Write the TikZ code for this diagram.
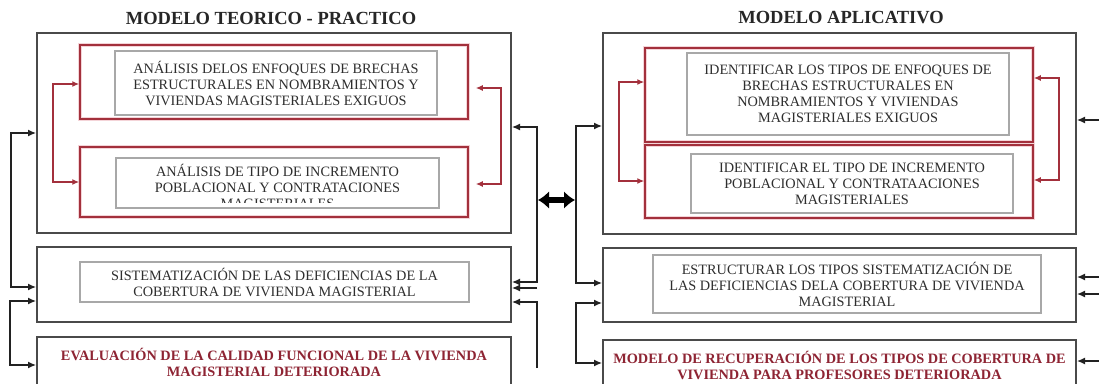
\documentclass[tikz,border=0pt]{standalone}
\usepackage{fontspec}
\setmainfont{Liberation Serif}
\usetikzlibrary{arrows.meta}
\definecolor{boxgray}{HTML}{4A4A4A}
\definecolor{innergray}{HTML}{A8A8A8}
\definecolor{redline}{HTML}{A3303C}
\definecolor{redhalo}{HTML}{F4D4D8}
\definecolor{redtext}{HTML}{8E2433}
\definecolor{txtgray}{HTML}{2E2E2E}
\definecolor{connblack}{HTML}{222222}
\tikzset{
  outerbox/.style={draw=boxgray,line width=2pt,rectangle,inner sep=0pt},
  redbox/.style={draw=redline,line width=1.5pt,rectangle,inner sep=0pt,
    preaction={draw=redhalo,line width=4pt}},
  graybox/.style={draw=innergray,line width=1.4pt,rectangle,inner sep=0pt,
    align=center,font=\fontsize{14.3}{16}\selectfont,text=txtgray},
  plaintext/.style={inner sep=0pt,align=center,font=\fontsize{14.3}{16}\selectfont,text=txtgray},
  evalbox/.style={draw=boxgray,line width=2pt,rectangle,inner sep=0pt,
    align=center,font=\fontsize{14.3}{16}\selectfont\bfseries,text=redtext},
  titletext/.style={inner sep=0pt,font=\fontsize{18.5}{20}\selectfont\bfseries,text=black!85},
  conn/.style={draw=connblack,line width=1.3pt,-{Latex[length=8pt,width=7pt]}},
  conntwo/.style={conn,{Latex[length=8pt,width=7pt]}-{Latex[length=8pt,width=7pt]}},
  redconn/.style={draw=redline,line width=1.3pt,
    {Latex[length=7pt,width=6pt]}-{Latex[length=7pt,width=6pt]}},
  bigarrow/.style={draw=black,line width=6pt,
    {Latex[length=11pt,width=18pt]}-{Latex[length=11pt,width=18pt]}}
}
\begin{document}
\begin{tikzpicture}[x=1pt,y=-1pt]
\useasboundingbox (0,0) rectangle (1099,383);
\fill[white] (0,0) rectangle (1099,383);
\clip (0,0) rectangle (1099,383);

% titles
\node[titletext] (T1) at (271,18) {MODELO TEORICO - PRACTICO};
\node[titletext] (T2) at (841,18) {MODELO APLICATIVO};

% ---------- left model ----------
\node[outerbox,minimum width=474pt,minimum height=200pt] (L) at (274,133) {};
\node[redbox,minimum width=388pt,minimum height=74pt] (LR1) at (274,82) {};
\node[graybox,minimum width=322pt,minimum height=64pt] (LG1) at (276,83)
  {ANÁLISIS DELOS ENFOQUES DE BRECHAS\\ESTRUCTURALES EN NOMBRAMIENTOS Y\\VIVIENDAS MAGISTERIALES EXIGUOS};
\node[redbox,minimum width=388pt,minimum height=70pt] (LR2) at (274,182) {};
\node[graybox,minimum width=323pt,minimum height=50pt] (LG2) at (277.5,183) {};
\begin{scope}
  \clip (100,160) rectangle (460,202.5);
  \node[plaintext] (LG2t) at (277.5,186.5)
    {ANÁLISIS DE TIPO DE INCREMENTO\\POBLACIONAL Y CONTRATACIONES\\MAGISTERIALES};
\end{scope}

\node[outerbox,minimum width=474pt,minimum height=75pt] (LS) at (274,284.5) {};
\node[graybox,minimum width=389pt,minimum height=40pt] (LSG) at (274.5,282)
  {SISTEMATIZACIÓN DE LAS DEFICIENCIAS DE LA\\COBERTURA DE VIVIENDA MAGISTERIAL};

\node[evalbox,minimum width=474pt,minimum height=50pt] (LE) at (274,362)
  {EVALUACIÓN DE LA CALIDAD FUNCIONAL DE LA VIVIENDA\\MAGISTERIAL DETERIORADA};

% ---------- right model ----------
\node[outerbox,minimum width=473pt,minimum height=201pt] (R) at (839.5,133.5) {};
\node[redbox,minimum width=388pt,minimum height=94pt] (RR1) at (839,95) {};
\node[graybox,minimum width=322pt,minimum height=82pt] (RG1) at (848,94)
  {IDENTIFICAR LOS TIPOS DE ENFOQUES DE\\BRECHAS ESTRUCTURALES EN\\NOMBRAMIENTOS Y VIVIENDAS\\MAGISTERIALES EXIGUOS};
\node[redbox,minimum width=388pt,minimum height=73pt] (RR2) at (839,181.5) {};
\node[graybox,minimum width=322pt,minimum height=59pt] (RG2) at (852,183.5)
  {IDENTIFICAR EL TIPO DE INCREMENTO\\POBLACIONAL Y CONTRATAACIONES\\MAGISTERIALES};

\node[outerbox,minimum width=473pt,minimum height=74pt] (RS) at (839.5,285) {};
\node[graybox,minimum width=388pt,minimum height=58pt] (RSG) at (847,284)
  {ESTRUCTURAR LOS TIPOS SISTEMATIZACIÓN DE\\LAS DEFICIENCIAS DELA COBERTURA DE VIVIENDA\\MAGISTERIAL};

\node[evalbox,minimum width=473pt,minimum height=50pt] (RE) at (839.5,365)
  {MODELO DE RECUPERACIÓN DE LOS TIPOS DE COBERTURA DE\\VIVIENDA PARA PROFESORES DETERIORADA};

% ---------- red feedback connectors ----------
\draw[redconn] (LR1.west |- 0,84) -| (53,182) -- (LR2.west |- 0,182);
\draw[redconn,shorten <=7pt,shorten >=7pt] (LR1.east |- 0,88) -| (501,184) -- (LR2.east |- 0,184);
\draw[redconn] (RR1.west |- 0,82) -| (619,181) -- (RR2.west |- 0,181);
\draw[redconn] (RR1.east |- 0,78) -| (1059,180) -- (RR2.east |- 0,180);

% ---------- black connectors, left ----------
\draw[conntwo] (L.west |- 0,133) -| (11,287) -- (LS.west |- 0,287);
\draw[conntwo] (LS.west |- 0,301) -| (10,365) -- (LE.west |- 0,365);

% ---------- middle ----------
\draw[conntwo] (L.east |- 0,127) -| (537,282) -- (LS.east |- 0,282);
\coordinate (stub) at (537,288);
\draw[conn] (stub) -- (LS.east |- stub);
\coordinate (mlend) at (537,368);
\draw[conn] (mlend) |- (LS.east |- 0,302);

\draw[conntwo] (R.west |- 0,126) -| (576,283) -- (RS.west |- 0,283);
\draw[conntwo] (RS.west |- 0,303) -| (576,363) -- (RE.west |- 0,363);

\coordinate (da1) at (538,200);
\coordinate (da2) at (575,200);
\draw[bigarrow] (da1) -- (da2);

% ---------- right edge ----------
\coordinate (e1) at (1099,120);
\coordinate (e2) at (1099,277);
\coordinate (e3) at (1099,294);
\coordinate (e4) at (1099,361);
\draw[conn] (e1) -- (R.east |- e1);
\draw[conn] (e2) -- (RS.east |- e2);
\draw[conn] (e3) -- (RS.east |- e3);
\draw[conn] (e4) -- (RE.east |- e4);
\end{tikzpicture}
\end{document}
